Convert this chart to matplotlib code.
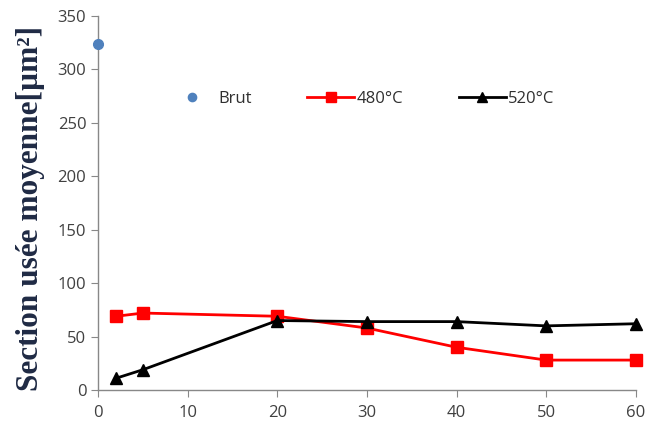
import matplotlib
matplotlib.use("Agg")
import matplotlib.pyplot as plt

brut_x = [0]
brut_y = [324]
x_480 = [2, 5, 20, 30, 40, 50, 60]
y_480 = [69, 72, 69, 58, 40, 28, 28]
x_520 = [2, 5, 20, 30, 40, 50, 60]
y_520 = [11, 19, 65, 64, 64, 60, 62]

plt.rcParams['font.family'] = ['Open Sans', 'DejaVu Sans']

fig = plt.figure(figsize=(6.5, 4.3), dpi=100)
ax = fig.add_axes([0.151, 0.093, 0.827, 0.870])

ax.plot(brut_x, brut_y, 'o', color='#4F81BD', markersize=7, label='Brut', clip_on=False, zorder=5)
ax.plot(x_480, y_480, '-s', color='#FF0000', markersize=8, linewidth=2, label='480°C', clip_on=False)
ax.plot(x_520, y_520, '-^', color='#000000', markersize=9, linewidth=2, label='520°C', clip_on=False)

ax.set_xlim(0, 60)
ax.set_ylim(0, 350)
ax.set_xticks(range(0, 61, 10))
ax.set_yticks(range(0, 351, 50))
for s in ['top', 'right']:
    ax.spines[s].set_visible(False)
for s in ['left', 'bottom']:
    ax.spines[s].set_color('#888888')
    ax.spines[s].set_linewidth(1)
ax.tick_params(axis='both', colors='#888888', labelcolor='#404040', labelsize=12, length=5, direction='out')
ax.tick_params(axis='x', pad=6)

ax.set_ylabel('Section usée moyenne[µm²]', family=['Liberation Serif', 'DejaVu Serif'],
              fontweight='bold', fontsize=22.5, color='#1F2A44', labelpad=9)
ax.yaxis.label.set_y(0.485)

leg = ax.legend(loc='center', bbox_to_anchor=(0.49, 0.778), ncol=3, frameon=False,
                fontsize=12, handlelength=2.8, columnspacing=3.35, handletextpad=0.15,
                markerscale=0.85, labelcolor='#303030')

fig.savefig('out.png', dpi=100)
